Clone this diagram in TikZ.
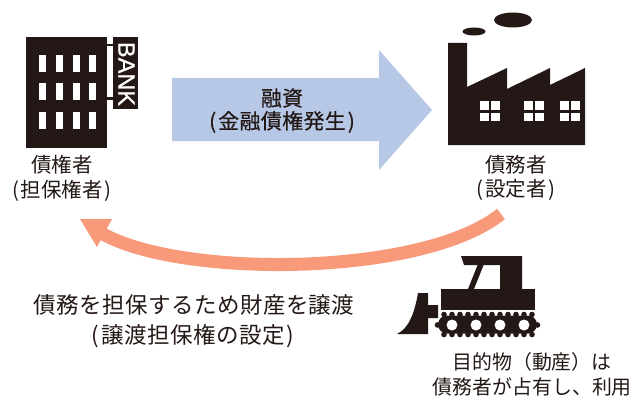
\documentclass[tikz,border=0pt]{standalone}
\usepackage{fontspec}
\newfontfamily\jp{Noto Sans CJK JP}
\newfontfamily\jpw[LetterSpace=2]{Noto Sans CJK JP}
\newfontfamily\jpm[LetterSpace=1.5,FakeBold=0.4]{Noto Sans CJK JP}
\newfontfamily\bankfont[FakeBold=0.8]{Liberation Sans}
\definecolor{ink}{HTML}{231815}
\definecolor{bluearrow}{HTML}{B7C8E6}
\definecolor{salmon}{HTML}{F8997A}
\newcommand{\pk}{\hspace{2pt}}
\tikzset{
  lbl/.style={inner sep=0pt,text=ink,font=\jp\fontsize{20.5}{24}\selectfont},
  lbls/.style={inner sep=0pt,text=ink,font=\jp\fontsize{19.9}{24}\selectfont},
  lblw/.style={inner sep=0pt,text=ink,font=\jpw\fontsize{22.5}{26}\selectfont},
  lblm/.style={inner sep=0pt,text=ink,font=\jpm\fontsize{21}{24}\selectfont},
  solid ink/.style={fill=ink,draw=none},
  hole/.style={fill=white,draw=none},
}
\begin{document}
\begin{tikzpicture}[x=1pt,y=-1pt]
\useasboundingbox (0,0) rectangle (632,396);
% blue arrow
\fill[bluearrow] (172,78) -- (379,78) -- (379,50) -- (432,110) -- (379,170) -- (379,141) -- (172,141) -- cycle;
\node[lblm] (loan1) at (282,98) {融資};
\node[lblm] (loan2) at (282,122) {(\pk 金融債権発生\pk)};
% bank
\fill[solid ink] (26,37) rectangle (107,148);
\foreach \y in {55,83,112}
  \foreach \x in {39,56,73,89}
    \fill[hole] (\x,\y) rectangle ++(6.5,17);
\fill[solid ink] (107,44) rectangle (113,46.5);
\fill[solid ink] (107,97) rectangle (113,99.5);
\fill[solid ink] (113,37) rectangle (138,109);
\node[rotate=-90,inner sep=0pt,text=white,font=\bankfont\fontsize{23.5}{24}\selectfont] (bank) at (126.5,74) {BANK};
\node[lbl] (creditor1) at (62,165) {債権者};
\node[lbl] (creditor2) at (62,191) {(\pk 担保権者\pk)};
% factory
\fill[solid ink] (448,43) -- (467,43) -- (467,87) -- (507,68) -- (507,89) -- (550,68) -- (550,85) -- (585,68) -- (585,145) -- (448,145) -- cycle;
\fill[solid ink] (513,20) ellipse [x radius=19,y radius=7.5];
\fill[solid ink] (474,31.5) ellipse [x radius=11.5,y radius=4];
\foreach \x in {480,524,560}
  \foreach \a in {0,11}
    \foreach \b in {0,11.5}
      \fill[hole] (\x+\a,101+\b) rectangle ++(9,8.5);
\node[lbl] (debtor1) at (516,165) {債務者};
\node[lbl] (debtor2) at (516,190) {(\pk 設定者\pk)};
% salmon arrow
\coordinate (tail) at (501,214);
\coordinate (neck) at (103,234);
\draw[salmon,line width=13pt] (tail) .. controls (422,277) and (182,278) .. (neck);
\fill[salmon] (80,219) -- (112,219) -- (97,247) -- cycle;
\node[lblw] (transfer1) at (194,305) {債務を担保するため財産を譲渡};
\node[lblw] (transfer2) at (193,336) {(\pk 譲渡担保権の設定\pk)};
% bulldozer
\fill[solid ink] (441,289) rectangle (535,310);
\fill[solid ink] (461,256) -- (522,256) -- (522,289) -- (500,289) -- (500,265) -- (464,265) -- cycle;
\fill[solid ink] (478,264) -- (484,264) -- (474,289) -- (468,289) -- cycle;
\fill[solid ink] (418,293) -- (428,293) -- (428,305) -- (438,305) -- (438,318) -- (428,318) -- (428,334) -- (397,334)
  .. controls (410,328) and (415,310) .. cycle;
\fill[solid ink,rounded corners=9pt] (438,315.5) rectangle (537,333.5);
\foreach \x in {444,452,...,532} {
  \fill[solid ink] (\x,314.5) circle (2.8);
  \fill[solid ink] (\x,334.5) circle (2.8);
}
\fill[solid ink] (437.5,325) circle (2.8);
\fill[solid ink] (537.5,325) circle (2.8);
\foreach \x in {452,476,500,524}
  \fill[hole] (\x,325) circle (5.5);
\node[lbls] (asset1) at (532,362) {目的物（動産）は};
\node[lbls,anchor=east] (asset2) at (632,387) {債務者が占有し、利用};
\end{tikzpicture}
\end{document}
